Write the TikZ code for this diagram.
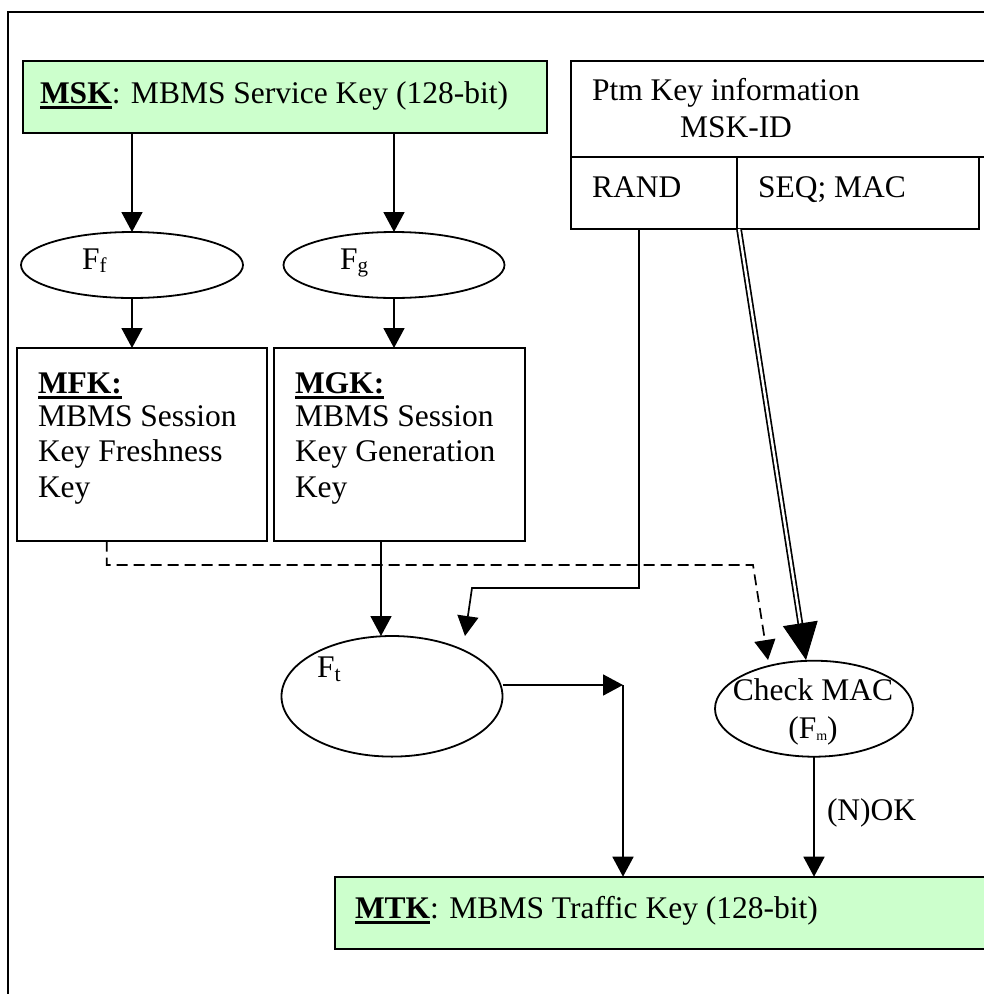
\documentclass[tikz,border=0pt]{standalone}
\usepackage{fontspec}
\setmainfont{Liberation Serif}
\usetikzlibrary{arrows.meta,shapes.geometric,calc}
\definecolor{keygreen}{HTML}{CCFFCC}
\newcommand\kul[1]{\setbox0\hbox{#1}\rlap{\rule[-5.5pt]{\wd0}{2.5pt}}\box0}
\newcommand\fsub[3]{\raisebox{-#2pt}{\fontsize{#1}{#1}\selectfont #3}}
\begin{document}
\begin{tikzpicture}[x=1pt,y=-1pt,
  every node/.style={inner sep=0pt, outer sep=0pt},
  txt/.style={anchor=base west, font=\fontsize{31.5}{35}\selectfont},
  ctxt/.style={anchor=base, font=\fontsize{31.5}{35}\selectfont},
  boxline/.style={draw, line width=1.8pt, anchor=north west},
  greenbox/.style={boxline, fill=keygreen},
  fn/.style={draw, line width=1.8pt, ellipse},
  arr/.style={line width=1.7pt, -{Triangle[length=20pt,width=21pt]}},
  dasharr/.style={arr, dash pattern=on 11pt off 6pt},
]
\useasboundingbox (0,0) rectangle (984,994);
\clip (0,0) rectangle (984,994);

% frame
\draw[line width=2pt] (7.5,1000) -- (7.5,12) -- (1000,12);

% boxes
\node[greenbox, minimum width=524.4pt, minimum height=72.3pt] (msk) at (22.6,60.7) {};
\node[boxline, minimum width=425pt, minimum height=96.3pt] (ptm) at (570.7,60.7) {};
\node[boxline, minimum width=166.3pt, minimum height=72pt] (rand) at (570.7,157) {};
\node[boxline, minimum width=242pt, minimum height=72pt] (seqmac) at (737,157) {};
\node[boxline, minimum width=250.1pt, minimum height=192.7pt] (mfk) at (16.7,348) {};
\node[boxline, minimum width=251pt, minimum height=192.7pt] (mgk) at (274,348) {};
\node[greenbox, minimum width=665pt, minimum height=72.3pt] (mtk) at (334.8,876.7) {};

% ellipses
\node[fn, minimum width=222pt, minimum height=66pt] (ff) at (132,265) {};
\node[fn, minimum width=221pt, minimum height=66pt] (fg) at (394,265) {};
\node[fn, minimum width=221pt, minimum height=120.6pt] (ft) at (392,696.3) {};
\node[fn, minimum width=198pt, minimum height=96pt] (chk) at (814,708.7) {};

% texts
\node[txt] (msklbl) at (40,103) {\kul{\textbf{MSK}}: MBMS Service Key (128-bit)};
\node[txt] (ptmlbl) at (592,100) {Ptm Key information};
\node[txt] (mskid) at (680,137) {MSK-ID};
\node[txt] (randlbl) at (592,197) {RAND};
\node[txt] (seqlbl) at (758,197) {SEQ; MAC};
\node[txt] (fflbl) at (82,269) {F\fsub{21}{3}{f}};
\node[txt] (fglbl) at (340,269) {F\fsub{21}{3}{g}};
\node[txt] (mfk1) at (38,393) {\kul{\textbf{MFK:}}};
\node[txt] (mfk2) at (38,426) {MBMS Session};
\node[txt] (mfk3) at (38,461) {Key Freshness};
\node[txt] (mfk4) at (38,497) {Key};
\node[txt] (mgk1) at (295,393) {\kul{\textbf{MGK:}}};
\node[txt] (mgk2) at (295,426) {MBMS Session};
\node[txt] (mgk3) at (295,461) {Key Generation};
\node[txt] (mgk4) at (295,497) {Key};
\node[txt] (ftlbl) at (317,677) {F\fsub{22}{4}{t}};
\node[ctxt] (chk1) at (813,700) {Check MAC};
\node[ctxt] (chk2) at (813,738) {(F\fsub{14}{2}{m})};
\node[txt] (oklbl) at (827,820) {(N)OK};
\node[txt] (mtklbl) at (355,918) {\kul{\textbf{MTK}}: MBMS Traffic Key (128-bit)};

% connectors
\draw[arr] (msk.south -| ff.north) -- (ff.north);
\draw[arr] (msk.south -| fg.north) -- (fg.north);
\draw[arr] (ff.south) -- (ff.south |- mfk.north);
\draw[arr] (fg.south) -- (fg.south |- mgk.north);
\coordinate (ftin) at ($(ft.north)+(-11,0)$);
\draw[arr] (mgk.south -| ftin) -- (ftin);

\coordinate (rb1) at (639,588);
\coordinate (rb2) at (472,588);
\coordinate (rtip) at (465,636);
\draw[arr] (rand.south -| rb1) -- (rb1) -- (rb2) -- (rtip);

\coordinate (d1) at (106.8,565);
\coordinate (d2) at (753,565);
\coordinate (dtip) at (768,660);
\draw[dasharr] (mfk.south -| d1) -- (d1) -- (d2) -- (dtip);

\coordinate (ms) at ($(seqmac.south west)+(2,0)$);
\coordinate (mtip) at (806,660);
\draw[line width=1.7pt, double, double distance=2.4pt, shorten >=30pt] (ms) -- (mtip);
\draw[line width=1pt, -{Triangle[length=37pt,width=35pt]}] ($(mtip)!37pt!(ms)$) -- (mtip);

\coordinate (tc) at (623,685);
\draw[arr] (ft.east |- tc) -- (tc);
\draw[arr] (tc) -- (tc |- mtk.north);
\draw[arr] (chk.south) -- (chk.south |- mtk.north);
\end{tikzpicture}
\end{document}
